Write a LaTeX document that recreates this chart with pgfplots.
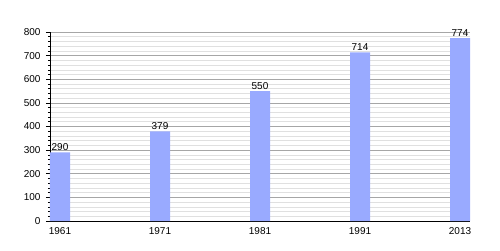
\documentclass[border=0pt]{standalone}
\usepackage{pgfplots}
\pgfplotsset{compat=1.18}
\usepackage{fontspec}
\setmainfont{Liberation Sans}
\definecolor{barblue}{RGB}{153,170,255}
\begin{document}
\begin{tikzpicture}[x=1pt,y=1pt]
\path[use as bounding box] (0,0) rectangle (500,250);
\begin{axis}[
  at={(50pt,29pt)}, anchor=south west,
  scale only axis, width=420pt, height=189pt,
  xmin=0, xmax=4.2, ymin=0, ymax=800,
  axis lines*=left,
  axis line style={black, line width=0.8pt},
  /pgf/number format/assume math mode=true,
  ticklabel style={font=\fontsize{10}{12}\selectfont},
  yticklabel style={xshift=-2pt},
  xticklabel style={yshift=1pt},
  ytick={0,100,...,800},
  minor y tick num=4,
  ymajorgrids, yminorgrids,
  major grid style={color=black!35, line width=0.6pt},
  minor grid style={color=black!12, line width=0.6pt},
  tick align=outside,
  major tick length=4pt, minor tick length=2pt,
  tick style={black, line width=0.6pt},
  xtick={0.1,1.1,2.1,3.1,4.1},
  xticklabels={1961,1971,1981,1991,2013},
  x tick style={draw=none},
  xtick pos=bottom, ytick pos=left,
  clip=false,
]
\addplot[ybar, fill=barblue, draw=none, bar width=20pt, bar shift=0pt,
  nodes near coords,
  every node near coord/.append style={font=\fontsize{10}{12}\selectfont, anchor=south, inner sep=1.5pt, /pgf/number format/assume math mode=true}]
  coordinates {(0.1,290) (1.1,379) (2.1,550) (3.1,714) (4.1,774)};
\end{axis}
\end{tikzpicture}
\end{document}
